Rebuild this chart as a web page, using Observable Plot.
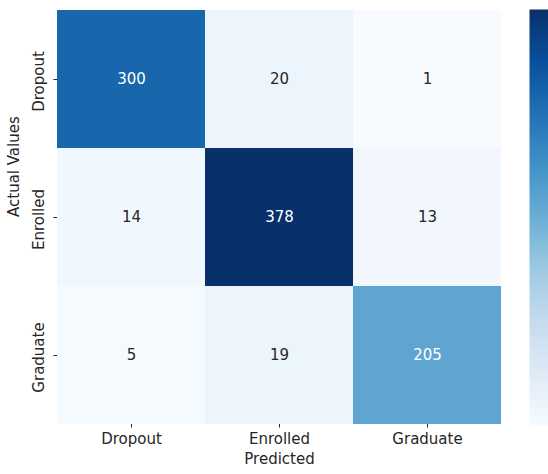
<!DOCTYPE html>
<html><head><meta charset="utf-8">
<script src="https://cdn.jsdelivr.net/npm/d3@7"></script>
<script src="https://cdn.jsdelivr.net/npm/@observablehq/plot@0.6"></script>
<style>
html,body{margin:0;padding:0;background:#fff;overflow:hidden;}
#wrap{position:relative;width:548px;height:474px;overflow:hidden;font-family:"DejaVu Sans";}
#wrap > svg, #wrap > figure{position:absolute;top:0;left:0;margin:0;}
#cbar{position:absolute;left:529px;top:0;}
</style></head><body><div id="wrap"></div>
<script>
const actual = ["Dropout", "Enrolled", "Graduate"];
const predicted = ["Dropout", "Enrolled", "Graduate"];
const counts = [
  [300, 20, 1],
  [14, 378, 13],
  [5, 19, 205]
];
const blues = ["#f7fbff","#deebf7","#c6dbef","#9ecae1","#6baed6","#4292c6","#2171b5","#08519c","#08306b"];

const cells = actual.flatMap((a, i) => predicted.map((p, j) => ({actual: a, predicted: p, count: counts[i][j]})));
const vmin = d3.min(cells, d => d.count), vmax = d3.max(cells, d => d.count);
const colorDomain = blues.map((_, k) => vmin + (vmax - vmin) * k / (blues.length - 1));
const colorOpts = {type: "linear", domain: colorDomain, range: blues, interpolate: "rgb"};
const colorFn = d3.scaleLinear().domain(colorDomain).range(blues).interpolate(d3.interpolateRgb);
function textColor(v) {
  const c = d3.rgb(colorFn(v));
  const f = x => { x /= 255; return x <= 0.03928 ? x / 12.92 : Math.pow((x + 0.055) / 1.055, 2.4); };
  const lum = 0.2126 * f(c.r) + 0.7152 * f(c.g) + 0.0722 * f(c.b);
  return lum > 0.408 ? "#262626" : "#ffffff";
}

const main = Plot.plot({
  width: 548, height: 474,
  marginLeft: 57, marginRight: 47, marginTop: 9, marginBottom: 50,
  style: {fontFamily: "DejaVu Sans", fontSize: "15px", color: "#262626", background: "transparent"},
  x: {domain: predicted, padding: 0, label: null},
  y: {domain: actual, padding: 0, label: null},
  color: colorOpts,
  marks: [
    Plot.cell(cells, {x: "predicted", y: "actual", fill: "count", inset: 0}),
    Plot.text(cells, {x: "predicted", y: "actual", text: d => String(d.count), fill: d => textColor(d.count), fontSize: 15}),
    Plot.axisX({tickSize: 3.5, tickPadding: 5, fontSize: 15, label: null, stroke: "#262626", fill: "#262626"}),
    Plot.axisY({tickSize: 3.5, text: null, label: null, stroke: "#262626"}),
    Plot.text(actual, {y: d => d, frameAnchor: "left", dx: -14, dy: 2, rotate: -90, textAnchor: "middle", lineAnchor: "bottom", fontSize: 15, fill: "#262626"}),
    Plot.text(["Predicted"], {frameAnchor: "bottom", dy: 39, fontSize: 15, fill: "#262626"}),
    Plot.text(["Actual Values"], {frameAnchor: "left", dx: -43, rotate: -90, fontSize: 15, fill: "#262626"})
  ]
});
document.getElementById("wrap").appendChild(main);

const cbar = Plot.plot({
  width: 40, height: 474,
  marginLeft: 0, marginRight: 19, marginTop: 9, marginBottom: 49,
  style: {background: "transparent"},
  x: {domain: [0, 1], axis: null},
  y: {domain: [vmin, vmax], axis: null},
  color: colorOpts,
  marks: [
    Plot.raster({fill: (x, y) => y, x1: 0, x2: 1, y1: vmin, y2: vmax, width: 1, height: 416, interpolate: "none", imageRendering: "auto"})
  ]
});
cbar.id = "cbar";
cbar.style.left = "529px";
document.getElementById("wrap").appendChild(cbar);
</script>
</body></html>
